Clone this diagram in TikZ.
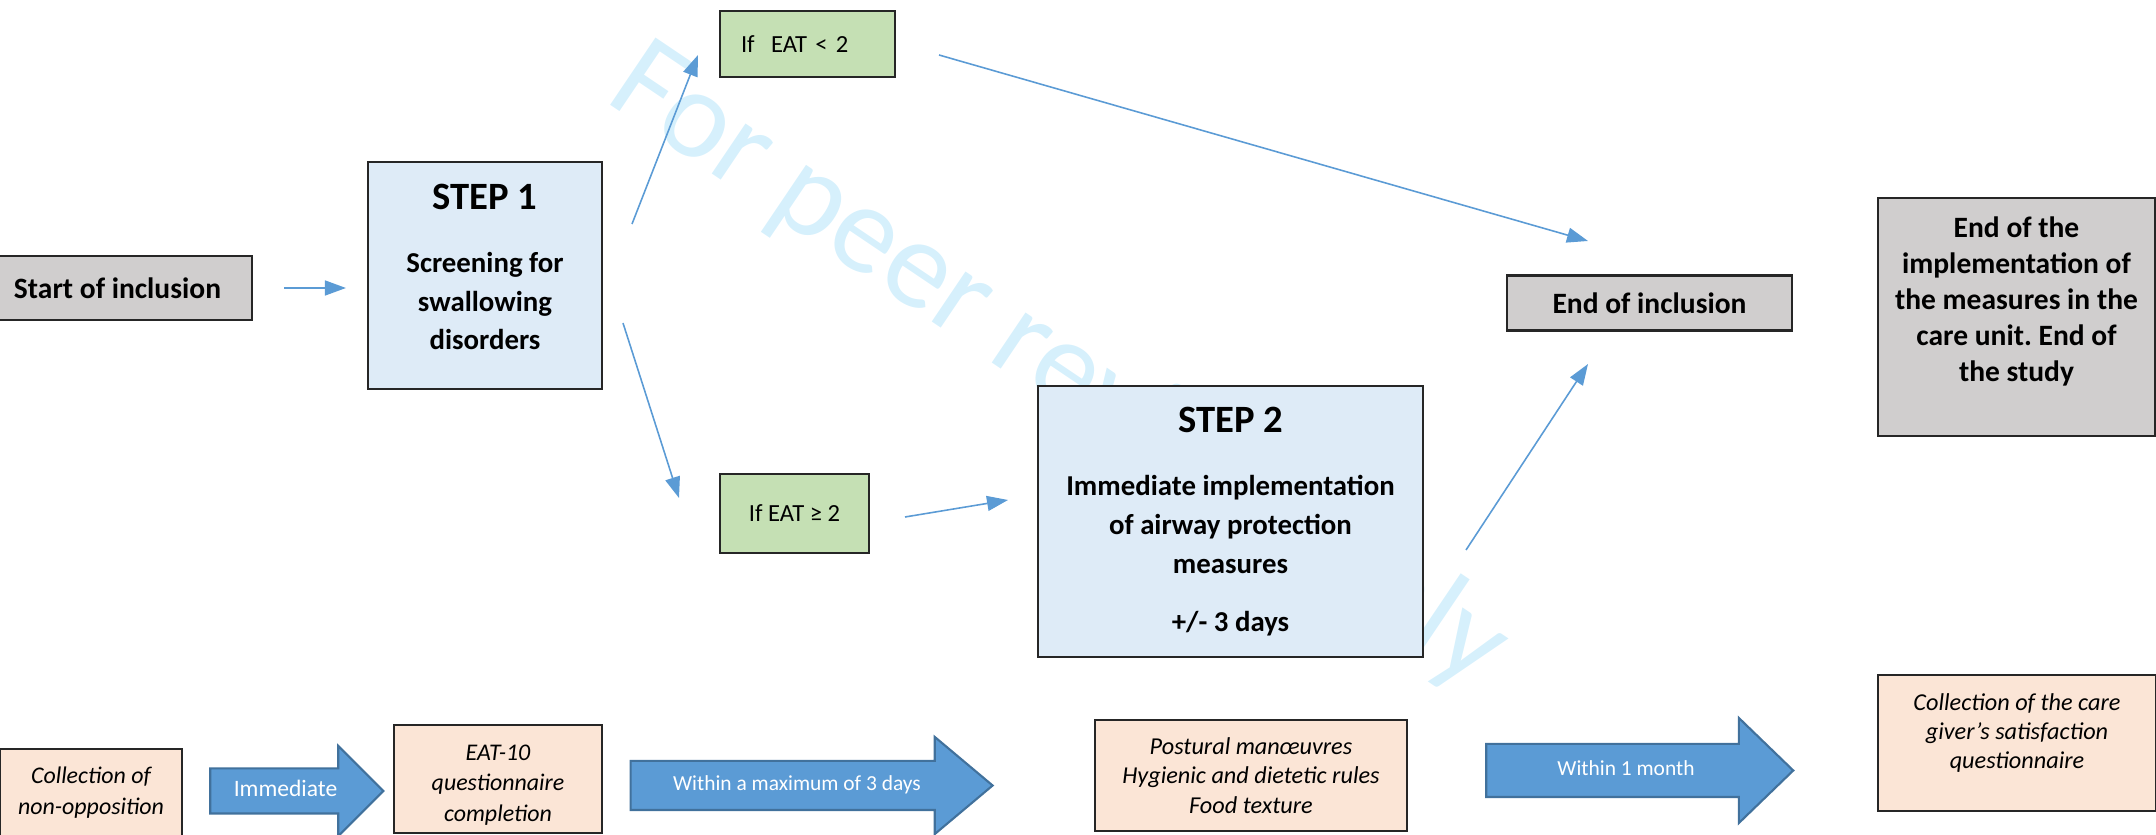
\documentclass[tikz,border=0pt]{standalone}
\usepackage{fontspec}
\setmainfont{Carlito}
\usetikzlibrary{arrows.meta, shapes.arrows}
\frenchspacing

\definecolor{boxgrey}{HTML}{D0CECE}
\definecolor{stepblue}{HTML}{DEEBF7}
\definecolor{condgreen}{HTML}{C5E0B4}
\definecolor{notepeach}{HTML}{FBE5D6}
\definecolor{flowblue}{HTML}{5B9BD5}
\definecolor{arrowedge}{HTML}{41719C}
\definecolor{markcyan}{RGB}{214,240,252}

\begin{document}
\begin{tikzpicture}[
    box/.style={draw=black!85, line width=0.6pt, align=center, inner sep=0pt},
    greybox/.style={box, fill=boxgrey, font=\bfseries\fontsize{8.4}{10.2}\selectfont},
    stepbox/.style={box, fill=stepblue, font=\bfseries\fontsize{8.2}{11}\selectfont},
    condbox/.style={box, fill=condgreen, font=\fontsize{7}{8.5}\selectfont},
    notebox/.style={box, fill=notepeach, font=\itshape\fontsize{6.8}{8.8}\selectfont},
    bigarrow/.style={single arrow, draw=arrowedge, line width=0.6pt, fill=flowblue,
        text=white, font=\fontsize{6.1}{7}\selectfont, inner xsep=0pt,
        text height=0.16cm, text depth=0.05cm},
    flow/.style={draw=flowblue, line width=0.45pt, -{Triangle[length=0.21cm, width=0.15cm]}}
]
    \useasboundingbox (0, 0) rectangle (21.56, -8.35);

    % watermark
    \node[anchor=base, rotate=-34, text=markcyan, font=\fontsize{36}{40}\selectfont] at (10.4, -3.95) (mark) {For peer review only};

    % top part
    \node[greybox, minimum width=2.69cm, minimum height=0.64cm] at (1.175, -2.88) (start) {Start of inclusion};
    \node[stepbox, minimum width=2.34cm, minimum height=2.27cm] at (4.85, -2.755) (step1)
        {{\fontsize{11}{12}\selectfont STEP 1}\\[0.24cm] Screening for\\ swallowing\\ disorders\\[-0.22cm]~};
    \node[condbox, minimum width=1.75cm, minimum height=0.66cm, text width=1.33cm, align=left] at (8.075, -0.44) (ifless) {If~ EAT < 2};
    \node[condbox, minimum width=1.49cm, minimum height=0.79cm] at (7.945, -5.135) (ifmore) {If EAT ≥ 2};
    \node[stepbox, minimum width=3.85cm, minimum height=2.71cm] at (12.305, -5.215) (step2)
        {{\fontsize{11}{12}\selectfont STEP 2}\\[0.25cm] Immediate implementation\\ of airway protection\\ measures\\[0.2cm] +/- 3 days};
    \node[greybox, minimum width=2.85cm, minimum height=0.55cm] at (16.495, -3.03) (endincl) {End of inclusion};
    \node[greybox, minimum width=2.77cm, minimum height=2.38cm] at (20.165, -3.17) (endstudy)
        {End of the\\ implementation of\\ the measures in the\\ care unit. End of\\ the study\\ ~};

    % arrow ends
    \coordinate (s1up) at (6.32, -2.24);
    \coordinate (ltin) at (6.98, -0.55);
    \coordinate (ltout) at (9.39, -0.55);
    \coordinate (eiup) at (15.88, -2.41);
    \coordinate (s1down) at (6.23, -3.23);
    \coordinate (gein) at (6.79, -4.98);
    \coordinate (geout) at (9.05, -5.17);
    \coordinate (s2in) at (10.08, -5.00);
    \coordinate (s2out) at (14.66, -5.50);
    \coordinate (eidown) at (15.88, -3.64);

    \draw[flow, shorten <=0.31cm, shorten >=0.21cm] (start.east) -- (start.east -| step1.west);
    \draw[flow] (s1up) -- (ltin);
    \draw[flow] (ltout) -- (eiup);
    \draw[flow] (s1down) -- (gein);
    \draw[flow] (geout) -- (s2in);
    \draw[flow] (s2out) -- (eidown);

    % bottom timeline
    \node[notebox, minimum width=1.82cm, minimum height=0.87cm] at (0.91, -7.925) (nonopp) {Collection of\\ non-opposition};
    \node[bigarrow, minimum height=1.73cm, minimum width=0.88cm, inner ysep=0.11cm, single arrow head extend=0.225cm,
        font=\fontsize{6.7}{7}\selectfont] at (2.855, -7.91) (imm) {Immediate};
    \node[notebox, minimum width=2.08cm, minimum height=1.08cm] at (4.98, -7.79) (eat10) {\rule{0pt}{7.9pt}EAT-10\\ questionnaire\\ completion};
    \node[bigarrow, minimum height=3.62cm, minimum width=0.95cm, inner ysep=0.13cm, single arrow head extend=0.24cm,
        single arrow tip angle=80] at (7.97, -7.855) (within3) {Within a maximum of 3 days};
    \node[notebox, minimum width=3.12cm, minimum height=1.11cm, font=\itshape\fontsize{6.9}{8.3}\selectfont] at (12.51, -7.755) (rules)
        {Postural manœuvres\\ Hygienic and dietetic rules\\ Food texture};
    \node[bigarrow, minimum height=3.07cm, minimum width=1.03cm, inner ysep=0.15cm, single arrow head extend=0.26cm,
        single arrow tip angle=88] at (16.26, -7.705) (within1) {Within 1 month};
    \node[notebox, minimum width=2.78cm, minimum height=1.36cm, font=\itshape\fontsize{6.9}{8.3}\selectfont] at (20.17, -7.43) (satisf)
        {Collection of the care\\ giver’s satisfaction\\ questionnaire\\[-0.05cm]~};
\end{tikzpicture}
\end{document}
